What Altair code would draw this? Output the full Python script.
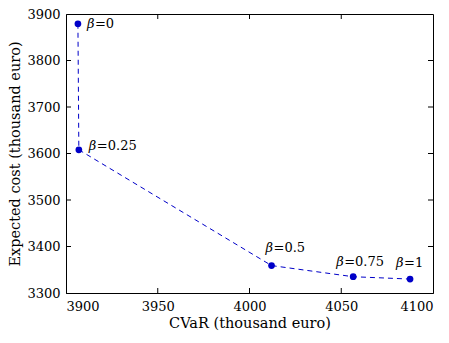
import altair as alt
import pandas as pd

cvar = [3906.5, 3907.0, 4012.0, 4056.5, 4087.5]
cost = [3879, 3608, 3359, 3335, 3330]
beta_vals = ["=0", "=0.25", "=0.5", "=0.75", "=1"]
x_ticks = [3900, 3950, 4000, 4050, 4100]
y_ticks = [3300, 3400, 3500, 3600, 3700, 3800, 3900]

# label offsets (dx, dy) in pixels
label_offsets = [(9, 0), (10, -4), (-6, -18), (-17, -15), (-14, -16)]

W, H = 367, 279
FONT = "DejaVu Serif"
BLUE = "#0000c8"

df = pd.DataFrame({"cvar": cvar, "cost": cost, "lab": beta_vals})

xs = alt.Scale(domain=[3900, 4100], nice=False, zero=False)
ys = alt.Scale(domain=[3300, 3900], nice=False, zero=False)

base = alt.Chart(df)

line = base.mark_line(color=BLUE, strokeDash=[5, 4], strokeWidth=1).encode(
    x=alt.X("cvar:Q", scale=xs,
            axis=alt.Axis(values=x_ticks, title="CVaR (thousand euro)", grid=False,
                          ticks=False, labelPadding=7, titlePadding=3, format="d")),
    y=alt.Y("cost:Q", scale=ys,
            axis=alt.Axis(values=y_ticks, title="Expected cost (thousand euro)", grid=False,
                          ticks=False, labelPadding=6, titlePadding=4, format="d")),
)
pts = base.mark_circle(color=BLUE, size=45, opacity=1).encode(
    x=alt.X("cvar:Q", scale=xs), y=alt.Y("cost:Q", scale=ys)
)

layers = [line, pts]
for i, (dx, dy) in enumerate(label_offsets):
    d = df.iloc[[i]]
    layers.append(alt.Chart(d).mark_text(
        text="β", font=FONT, fontSize=13, fontStyle="italic", align="left",
        baseline="middle", dx=dx, dy=dy, color="black").encode(
        x=alt.X("cvar:Q", scale=xs), y=alt.Y("cost:Q", scale=ys)))
    layers.append(alt.Chart(d).mark_text(
        font=FONT, fontSize=13, align="left", baseline="middle",
        dx=dx + 8, dy=dy, color="black").encode(
        x=alt.X("cvar:Q", scale=xs), y=alt.Y("cost:Q", scale=ys), text="lab:N"))

# inward ticks
xt = pd.DataFrame({"t": x_ticks[1:-1]})
yt = pd.DataFrame({"t": y_ticks[1:-1]})
layers.append(alt.Chart(xt).mark_rule(color="black", strokeWidth=1).encode(
    x=alt.X("t:Q", scale=xs), y=alt.value(H), y2=alt.value(H - 5)))
layers.append(alt.Chart(xt).mark_rule(color="black", strokeWidth=1).encode(
    x=alt.X("t:Q", scale=xs), y=alt.value(0), y2=alt.value(5)))
layers.append(alt.Chart(yt).mark_rule(color="black", strokeWidth=1).encode(
    y=alt.Y("t:Q", scale=ys), x=alt.value(0), x2=alt.value(5)))
layers.append(alt.Chart(yt).mark_rule(color="black", strokeWidth=1).encode(
    y=alt.Y("t:Q", scale=ys), x=alt.value(W), x2=alt.value(W - 5)))

chart = alt.layer(*layers).properties(
    width=W, height=H,
    autosize=alt.AutoSizeParams(type="none"),
    padding={"left": 58, "top": 6, "right": 8, "bottom": 45},
).configure_view(stroke="black", strokeWidth=1).configure_axis(
    labelFont=FONT, titleFont=FONT, labelFontSize=13, titleFontSize=14.5,
    titleFontWeight="normal", labelColor="black", titleColor="black",
    domainColor="black", domainWidth=1,
).configure_text(font=FONT)

chart.save("out.html", embed_options={"renderer": "svg", "actions": False})
